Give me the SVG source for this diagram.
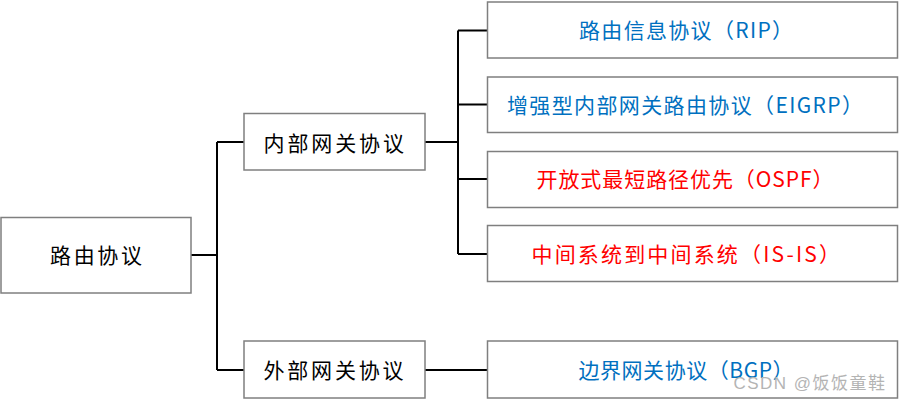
<svg xmlns="http://www.w3.org/2000/svg" width="901" height="401" viewBox="0 0 901 401">
  <style>
    .box { fill: #ffffff; stroke: #7f7f7f; stroke-width: 1.5; }
    .conn { fill: none; stroke: #000000; stroke-width: 2; }
    text { font-family: "Noto Sans CJK SC", "Noto Sans", sans-serif; font-size: 21px; dominant-baseline: central; }
    .black { fill: #000000; }
    .blue { fill: #0070c0; }
    .red { fill: #ff0000; }
    .wm { font-family: "Liberation Sans", "Noto Sans CJK SC", sans-serif; font-size: 17px; fill: #b4b4b4; }
  </style>
  <rect width="901" height="401" fill="#ffffff"/>

  <g id="connectors">
    <path class="conn" d="M191,255 H217 M217,142 V370 M217,142 H244 M217,370 H244"/>
    <path class="conn" d="M425,142 H458 M458,30.5 V254 M458,30.5 H487 M458,104.5 H487 M458,179 H487 M458,254 H487"/>
    <path class="conn" d="M425,370 H487"/>
  </g>

  <g id="root">
    <rect class="box" x="1" y="217.5" width="190" height="75.5"/>
    <text class="black" x="50" y="254" textLength="92" lengthAdjust="spacing">路由协议</text>
  </g>

  <g id="igp">
    <rect class="box" x="244" y="113.5" width="181" height="56.5"/>
    <text class="black" x="263.5" y="142" textLength="140.5" lengthAdjust="spacing">内部网关协议</text>
  </g>

  <g id="egp">
    <rect class="box" x="244" y="341" width="181" height="57"/>
    <text class="black" x="263.5" y="369" textLength="140" lengthAdjust="spacing">外部网关协议</text>
  </g>

  <g id="rip">
    <rect class="box" x="487.5" y="2" width="410" height="56"/>
    <text class="blue" x="579" y="29" textLength="214" lengthAdjust="spacing">路由信息协议（RIP）</text>
  </g>

  <g id="eigrp">
    <rect class="box" x="487.5" y="77" width="410" height="55.5"/>
    <text class="blue" x="507" y="104" textLength="356" lengthAdjust="spacing">增强型内部网关路由协议（EIGRP）</text>
  </g>

  <g id="ospf">
    <rect class="box" x="487.5" y="151.5" width="410" height="56"/>
    <text class="red" x="536.5" y="177.5" textLength="297" lengthAdjust="spacing">开放式最短路径优先（OSPF）</text>
  </g>

  <g id="isis">
    <rect class="box" x="487.5" y="225.5" width="410" height="56"/>
    <text class="red" x="531.5" y="252.5" textLength="308.5" lengthAdjust="spacing">中间系统到中间系统（IS-IS）</text>
  </g>

  <g id="bgp">
    <rect class="box" x="487.5" y="341" width="410" height="57"/>
    <text class="blue" x="578.5" y="369" textLength="215" lengthAdjust="spacing">边界网关协议（BGP）</text>
  </g>

  <text class="wm" x="733.5" y="383.5" textLength="151.5" lengthAdjust="spacing">CSDN @饭饭童鞋</text>
</svg>
